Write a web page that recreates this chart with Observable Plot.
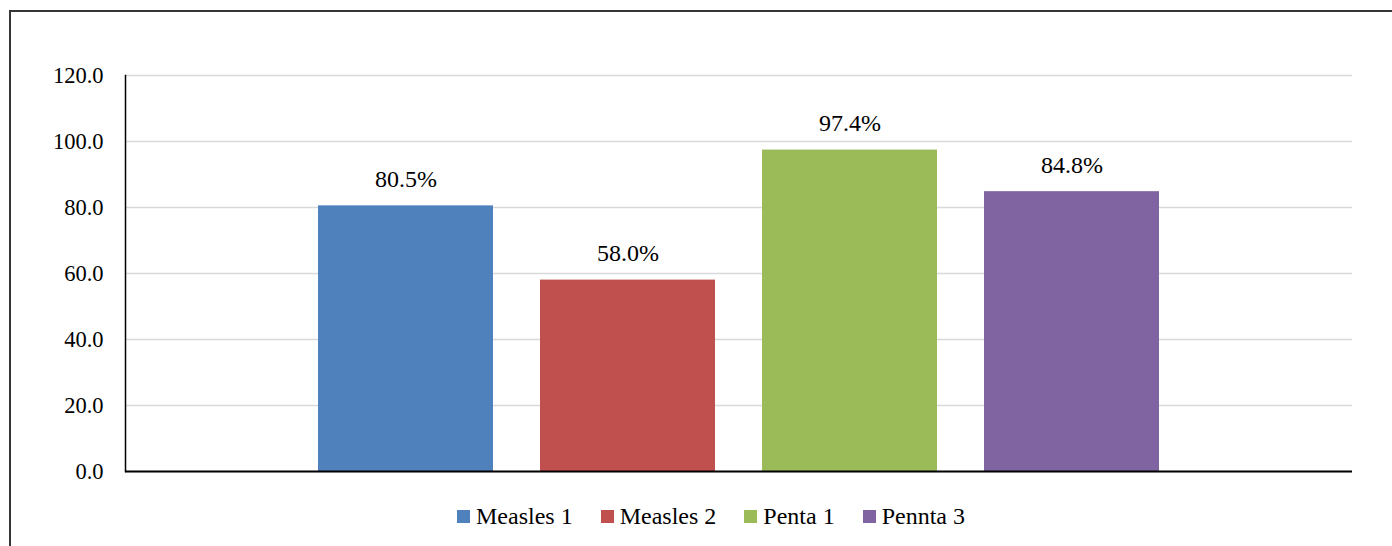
<!DOCTYPE html>
<html>
<head>
<meta charset="utf-8">
<script src="https://cdn.jsdelivr.net/npm/d3@7"></script>
<script src="https://cdn.jsdelivr.net/npm/@observablehq/plot@0.6"></script>
<style>
  body { margin: 0; background: #fff; overflow: hidden; }
  #wrap { position: relative; width: 1392px; height: 546px; }
  #frame { position: absolute; left: 9px; top: 10px; width: 1420px; height: 600px; border: 2px solid #363636; box-sizing: border-box; pointer-events: none; }
  #legend { position: absolute; left: 0; top: 502px; width: 1422px; display: flex; justify-content: center; align-items: center; font-size: 24px; line-height: 28px; color: #000; font-family: "Liberation Serif"; }
  .item { display: flex; align-items: center; margin: 0 14px; }
  .sw { width: 13px; height: 13px; margin-right: 6px; }
</style>
</head>
<body>
<div id="wrap">
  <div id="chart"></div>
  <div id="legend"></div>
  <div id="frame"></div>
</div>
<script>
const series = ["Measles 1", "Measles 2", "Penta 1", "Pennta 3"];
const values = [80.5, 58.0, 97.4, 84.8];
const colors = ["#4f81bd", "#c0504d", "#9bbb59", "#8064a2"];
const yTicks = [0, 20, 40, 60, 80, 100, 120];

const data = series.map((s, i) => ({series: s, value: values[i]}));

const chart = Plot.plot({
  width: 1392,
  height: 490,
  marginLeft: 125,
  marginRight: 40,
  marginTop: 75,
  marginBottom: 19,
  style: {fontSize: "22.5px", color: "#000", background: "transparent", fontFamily: "Liberation Serif"},
  x: {domain: series, paddingInner: 0.21, paddingOuter: 0.86, axis: null},
  y: {domain: [0, 120], ticks: yTicks},
  color: {domain: series, range: colors},
  marks: [
    Plot.gridY(yTicks, {stroke: "#d9d9d9", strokeOpacity: 1, strokeWidth: 1.5}),
    Plot.axisY(yTicks, {tickSize: 0, tickPadding: 22, tickFormat: d => d.toFixed(1), fontSize: 22.5, label: null}),
    Plot.barY(data, {x: "series", y: "value", fill: "series"}),
    Plot.text(data, {x: "series", y: "value", text: d => d.value.toFixed(1) + "%", lineAnchor: "bottom", dy: -19, fontSize: 24, fill: "#000"}),
    Plot.frame({anchor: "left", stroke: "#000", strokeWidth: 1.5}),
    Plot.ruleY([0], {stroke: "#000", strokeWidth: 2})
  ]
});
document.getElementById("chart").appendChild(chart);

const legend = document.getElementById("legend");
series.forEach((s, i) => {
  const it = document.createElement("div");
  it.className = "item";
  const sw = document.createElement("span");
  sw.className = "sw";
  sw.style.background = colors[i];
  const t = document.createElement("span");
  t.textContent = s;
  it.appendChild(sw); it.appendChild(t);
  legend.appendChild(it);
});
</script>
</body>
</html>
